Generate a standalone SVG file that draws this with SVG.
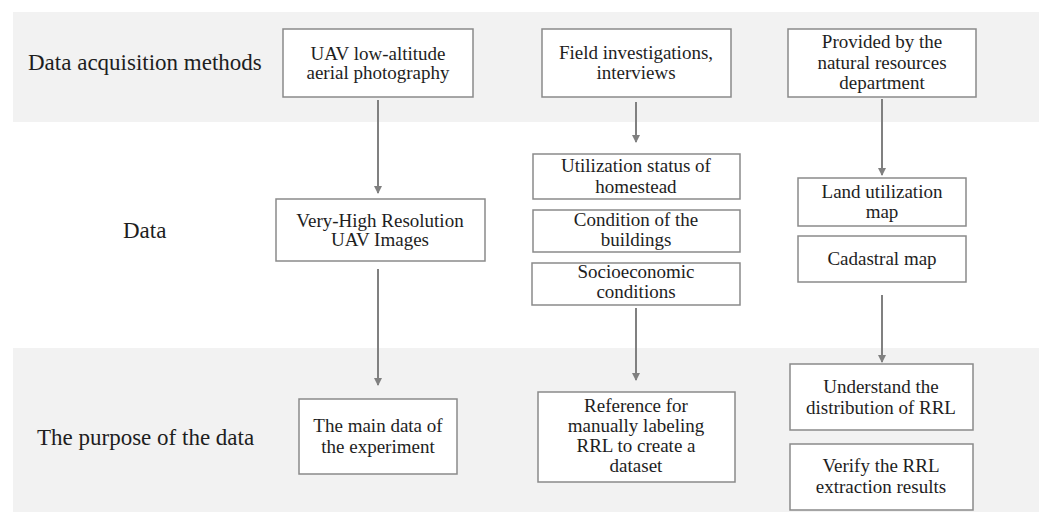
<svg xmlns="http://www.w3.org/2000/svg" width="1049" height="512" viewBox="0 0 1049 512">
<defs>
<marker id="ah" markerWidth="8" markerHeight="8" refX="7" refY="4" orient="auto" markerUnits="userSpaceOnUse">
<path d="M0,0 L8,4 L0,8 Z" fill="#808080"/>
</marker>
<style>
.band{fill:#f2f2f2}
.box{fill:#ffffff;stroke:#8a8a8a;stroke-width:1.5}
.t{font-family:"Liberation Serif","Times New Roman",serif;font-size:19px;fill:#1e1e1e;text-anchor:middle}
.lbl{font-family:"Liberation Serif","Times New Roman",serif;font-size:23px;fill:#1e1e1e}
.c{stroke:#808080;stroke-width:2;fill:none;marker-end:url(#ah)}
</style>
</defs>
<rect width="1049" height="512" fill="#ffffff"/>
<rect class="band" x="13" y="12" width="1026" height="110"/>
<rect class="band" x="13" y="348" width="1026" height="164"/>

<g id="row-labels">
<text class="lbl" x="28" y="70">Data acquisition methods</text>
<text class="lbl" x="123" y="238">Data</text>
<text class="lbl" x="37" y="445">The purpose of the data</text>
</g>

<g id="connectors">
<line class="c" x1="378" y1="100" x2="378" y2="193"/>
<line class="c" x1="378" y1="269" x2="378" y2="385"/>
<line class="c" x1="636" y1="102" x2="636" y2="142"/>
<line class="c" x1="636" y1="308" x2="636" y2="380"/>
<line class="c" x1="882" y1="99" x2="882" y2="175"/>
<line class="c" x1="882" y1="295" x2="882" y2="362"/>
</g>

<g id="uav-photo">
<rect class="box" x="283" y="29" width="190" height="68"/>
<text class="t" x="378" y="60">UAV low-altitude</text>
<text class="t" x="378" y="79">aerial photography</text>
</g>
<g id="field-investigations">
<rect class="box" x="542" y="29" width="189" height="68"/>
<text class="t" x="636" y="59">Field investigations,</text>
<text class="t" x="636" y="79">interviews</text>
</g>
<g id="provided">
<rect class="box" x="788" y="29" width="188" height="68"/>
<text class="t" x="882" y="48">Provided by the</text>
<text class="t" x="882" y="69">natural resources</text>
<text class="t" x="882" y="89">department</text>
</g>

<g id="vhr-images">
<rect class="box" x="276" y="199" width="209" height="62"/>
<text class="t" x="380" y="227">Very-High Resolution</text>
<text class="t" x="380" y="246">UAV Images</text>
</g>
<g id="utilization-status">
<rect class="box" x="533" y="154" width="207" height="45"/>
<text class="t" x="636" y="172">Utilization status of</text>
<text class="t" x="636" y="193">homestead</text>
</g>
<g id="condition-buildings">
<rect class="box" x="533" y="210" width="207" height="42"/>
<text class="t" x="636" y="226">Condition of the</text>
<text class="t" x="636" y="246">buildings</text>
</g>
<g id="socioeconomic">
<rect class="box" x="532" y="263" width="208" height="42"/>
<text class="t" x="636" y="278">Socioeconomic</text>
<text class="t" x="636" y="298">conditions</text>
</g>
<g id="land-utilization-map">
<rect class="box" x="798" y="178" width="168" height="48"/>
<text class="t" x="882" y="198">Land utilization</text>
<text class="t" x="882" y="218">map</text>
</g>
<g id="cadastral-map">
<rect class="box" x="798" y="236" width="168" height="46"/>
<text class="t" x="882" y="265">Cadastral map</text>
</g>

<g id="main-data">
<rect class="box" x="299" y="399" width="158" height="75"/>
<text class="t" x="378" y="432">The main data of</text>
<text class="t" x="378" y="453">the experiment</text>
</g>
<g id="reference-labeling">
<rect class="box" x="538" y="392" width="197" height="90"/>
<text class="t" x="636" y="412">Reference for</text>
<text class="t" x="636" y="432">manually labeling</text>
<text class="t" x="636" y="452">RRL to create a</text>
<text class="t" x="636" y="472">dataset</text>
</g>
<g id="understand-distribution">
<rect class="box" x="790" y="364" width="183" height="66"/>
<text class="t" x="881" y="393">Understand the</text>
<text class="t" x="881" y="414">distribution of RRL</text>
</g>
<g id="verify-results">
<rect class="box" x="790" y="444" width="183" height="66"/>
<text class="t" x="881" y="472">Verify the RRL</text>
<text class="t" x="881" y="493">extraction results</text>
</g>
</svg>
